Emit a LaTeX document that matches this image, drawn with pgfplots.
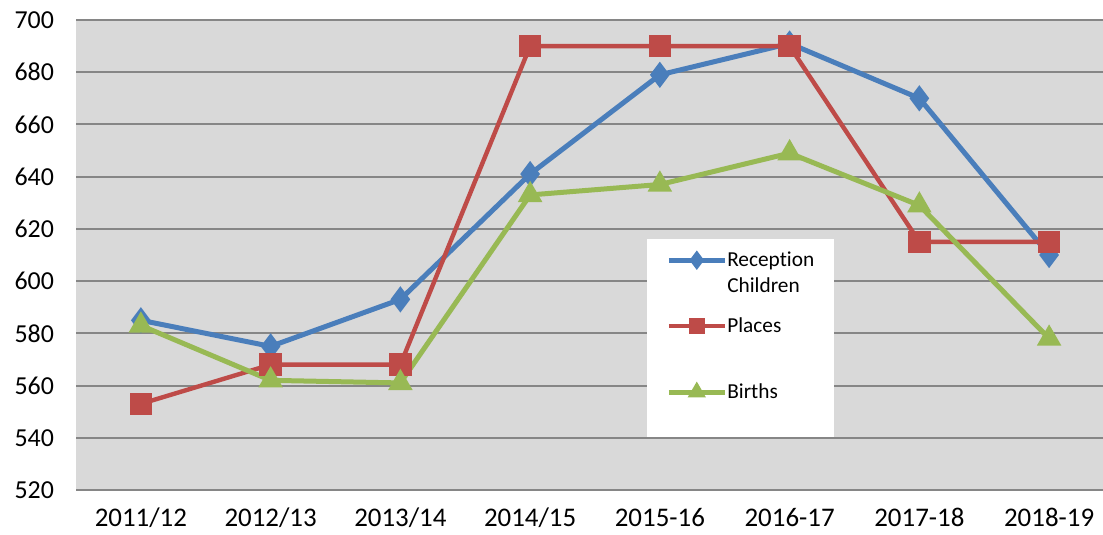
\documentclass[border=0pt]{standalone}
\usepackage{pgfplots}
\pgfplotsset{compat=1.18}
\usepackage{fontspec}
\setmainfont{Carlito}[Ligatures=NoCommon]
\definecolor{cblue}{HTML}{4A7EBB}
\definecolor{cred}{HTML}{BE4B48}
\definecolor{cgreen}{HTML}{98B954}
\definecolor{bg}{HTML}{D9D9D9}
\definecolor{gridc}{HTML}{868686}
\newcommand{\lgd}[1]{\parbox[t]{40bp}{\raggedright #1}}
\newcommand{\bk}[1]{\hspace*{-3.5bp}\mbox{#1}}
\begin{document}
\begin{tikzpicture}
\begin{axis}[name=ax, at={(0,0)}, anchor=south west,
  width=519bp, height=235bp, scale only axis,
  xmin=-0.5, xmax=7.5, ymin=520, ymax=700,
  ytick={520,540,...,700},
  xtick={0,...,7},
  xticklabels={2011/12,2012/13,2013/14,2014/15,2015-16,2016-17,2017-18,2018-19},
  axis background/.style={fill=bg},
  axis line style={draw=none},
  major tick length=0pt,
  ymajorgrids, grid style={gridc, line width=1bp},
  yticklabel style={font=\fontsize{13}{15}\selectfont, xshift=-7.5bp},
  xticklabel style={font=\fontsize{13.5}{16}\selectfont, yshift=-5.5bp},
  /pgf/number format/assume math mode=true,
  legend style={at={(axis description cs:0.550,0.534)}, anchor=north west,
    fill=white, draw=none, font=\fontsize{10.7}{13}\selectfont,
    inner xsep=8bp, inner ysep=4.9bp,
    cells={anchor=base west, inner xsep=0pt, inner ysep=0pt, text height=6.5bp},
    column sep=1.5bp},
  legend image code/.code={\path (0bp,0bp) (0bp,6bp); \draw[mark repeat=2,mark phase=2,#1,mark size=2.8bp] plot coordinates {(1.5bp,3bp)(15.5bp,3bp)(29.5bp,3bp)};},
]
\addplot[cblue, line width=2.5bp, mark=diamond*, mark size=4.5bp, mark options={solid,fill=cblue}]
  coordinates {(0,585)(1,575)(2,593)(3,641)(4,679)(5,691)(6,670)(7,610)};
\addlegendentry[text depth=22.5bp]{\lgd{\bk{Reception}\\\bk{Children}}}
\addplot[cred, line width=2.2bp, mark=square*, mark size=4.5bp, mark options={solid,fill=cred}]
  coordinates {(0,553)(1,568)(2,568)(3,690)(4,690)(5,690)(6,615)(7,615)};
\addlegendentry[text depth=22.5bp]{\lgd{\bk{Places}}}
\addplot[cgreen, line width=2.5bp, mark=triangle*, mark size=4.6bp, mark options={solid,fill=cgreen}]
  coordinates {(0,583)(1,562)(2,561)(3,633)(4,637)(5,649)(6,629)(7,578)};
\addlegendentry[text depth=12.3bp]{\lgd{\bk{Births}}}
\end{axis}
\pgfresetboundingbox
\path[use as bounding box] (-38bp,-22.5bp) rectangle (513.5bp,245bp);
\end{tikzpicture}
\end{document}
